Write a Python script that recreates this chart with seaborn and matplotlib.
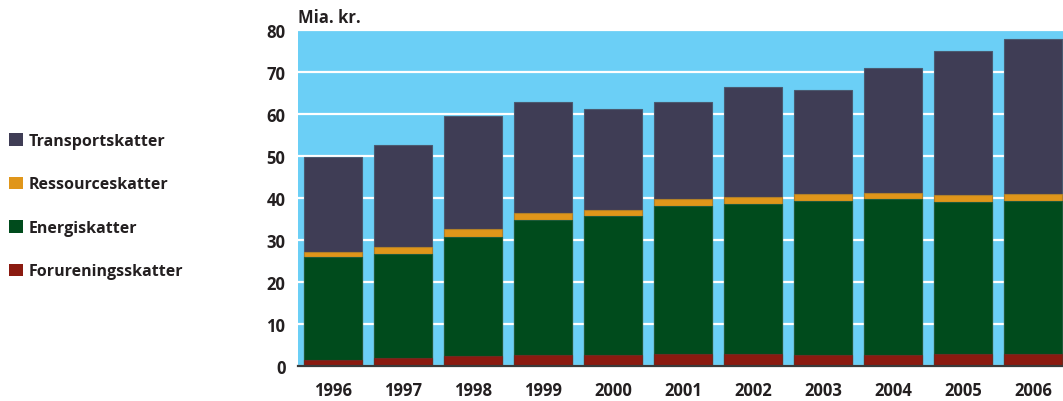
import numpy as np
import pandas as pd
import matplotlib
matplotlib.use("Agg")
import matplotlib.pyplot as plt
import seaborn as sns
from matplotlib.patches import Patch

years = ["1996", "1997", "1998", "1999", "2000", "2001", "2002", "2003", "2004", "2005", "2006"]
forurening = [1.4, 1.9, 2.4, 2.6, 2.7, 2.8, 2.9, 2.7, 2.7, 2.9, 2.9]
energi = [24.5, 24.8, 28.3, 32.2, 33.0, 35.4, 35.7, 36.6, 37.0, 36.2, 36.3]
ressource = [1.2, 1.6, 1.9, 1.6, 1.4, 1.6, 1.6, 1.7, 1.6, 1.7, 1.7]
transport = [22.7, 24.3, 26.9, 26.5, 24.1, 23.1, 26.2, 24.6, 29.7, 34.1, 37.0]

series_names = ["Forureningsskatter", "Energiskatter", "Ressourceskatter", "Transportskatter"]
series_vals = [forurening, energi, ressource, transport]
colors = ["#8B1A10", "#004B1C", "#E0961A", "#3F3D55"]
edges = ["#6E2A20", "#1E5A3A", "#B0802A", "#4A5A70"]

sns.set_theme(style="white")
plt.rcParams["font.family"] = ["Open Sans", "DejaVu Sans"]

fig = plt.figure(figsize=(10.63, 4.02), dpi=100)
ax = fig.add_axes([298 / 1063, 1 - 367 / 402, 1 - 298 / 1063, (367 - 31) / 402])
ax.set_facecolor("#6BCFF6")

cum = np.cumsum(np.array(series_vals), axis=0)
# draw from top cumulative to bottom so stacking overlaps correctly
for i in range(len(series_names) - 1, -1, -1):
    df = pd.DataFrame({"year": years, "value": cum[i]})
    sns.barplot(data=df, x="year", y="value", color=colors[i], width=0.84,
                edgecolor=edges[i], linewidth=0.8, saturation=1, ax=ax, zorder=3)

ax.set_ylim(0, 80)
ax.set_xlim(-0.5, 10.43)
ax.set_yticks(range(0, 81, 10))
ax.yaxis.grid(True, color="white", linewidth=1.6, zorder=1)
ax.set_axisbelow(True)
for s in ["left", "right", "top"]:
    ax.spines[s].set_visible(False)
ax.spines["bottom"].set_color("#3a3a3a")
ax.spines["bottom"].set_linewidth(1.6)
ax.spines["bottom"].set_zorder(5)
ax.tick_params(axis="both", length=0, labelsize=12, colors="#231f20")
ax.tick_params(axis="y", pad=9)
ax.tick_params(axis="x", pad=11)
for lab in ax.get_xticklabels() + ax.get_yticklabels():
    lab.set_fontweight("bold")
ax.set_xlabel("")
ax.set_ylabel("")

fig.text(298 / 1063, 1 - 18 / 402, "Mia. kr.", fontsize=12, fontweight="bold",
         color="#231f20", ha="left", va="center")

handles = [Patch(facecolor=colors[i], edgecolor="none", label=series_names[i]) for i in range(3, -1, -1)]
leg = fig.legend(handles=handles, loc="upper left", bbox_to_anchor=(9 / 1063, 1 - 134 / 402),
                 frameon=False, borderpad=0, borderaxespad=0,
                 handlelength=0.85, handleheight=0.85, handletextpad=0.35,
                 labelspacing=1.72, prop={"weight": "bold", "size": 11.5})
for t in leg.get_texts():
    t.set_color("#231f20")

fig.savefig("out.png", dpi=100)
